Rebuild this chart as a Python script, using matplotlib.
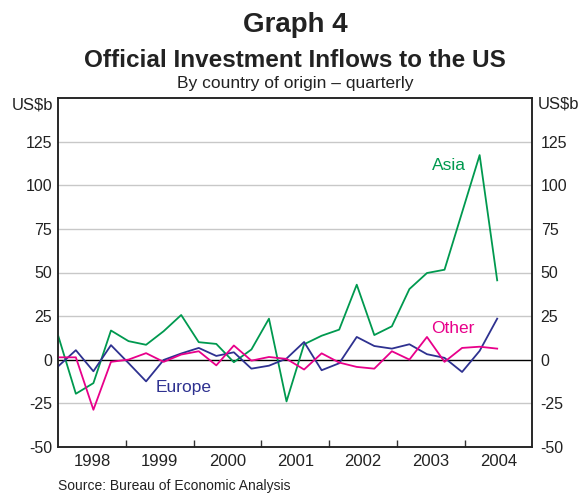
import matplotlib
matplotlib.use('Agg')
import matplotlib.pyplot as plt
import matplotlib.transforms as mtransforms
import numpy as np

plt.rcParams['font.family'] = ['Liberation Sans', 'DejaVu Sans']

# ---- data (US$b, quarterly) ----
quarter_index = list(range(26))
asia = [13.5, -19.6, -13.5, 16.7, 10.6, 8.5, 16.3, 25.6, 10.0, 9.0, -1.5, 5.8, 23.5,
        -24.0, 8.8, 13.7, 17.2, 43.0, 14.1, 19.1, 40.5, 49.7, 51.6, 84.5, 117.4, 45.5]
europe = [-3.8, 5.4, -6.7, 8.3, -2.0, -12.5, -0.2, 3.5, 6.7, 2.1, 4.2, -5.2, -3.5,
          0.6, 10.1, -6.1, -2.1, 13.0, 7.8, 6.3, 8.8, 3.1, 1.0, -7.1, 5.0, 23.5]
other = [1.3, 1.3, -28.8, -1.3, 0.0, 3.7, -1.3, 2.9, 4.8, -3.3, 8.1, -0.6, 1.5,
         0.4, -5.7, 3.6, -1.7, -4.2, -5.2, 4.8, 0.0, 13.0, -1.3, 6.7, 7.4, 6.3]
year_labels = ['1998', '1999', '2000', '2001', '2002', '2003', '2004']
y_ticks = [-50, -25, 0, 25, 50, 75, 100, 125]

GREEN = '#00994F'
BLUE = '#2E3190'
PINK = '#E8008A'
GRID = '#c8c8c8'
TXT = '#222222'

fig = plt.figure(figsize=(5.82, 4.93), dpi=100)
ax = fig.add_axes([58.3 / 582, 1 - 446.7 / 493, (532.3 - 58.3) / 582, (446.7 - 98.3) / 493])

ax.set_ylim(-50, 150)
n_slots = 27
ax.set_xlim(0, n_slots)

for v in y_ticks:
    if v == 0:
        continue
    ax.axhline(v, color=GRID, lw=1.0, zorder=1)
ax.axhline(0, color='black', lw=1.0, zorder=2)

ax.plot(quarter_index, asia, color=GREEN, lw=1.3, zorder=3)
ax.plot(quarter_index, europe, color=BLUE, lw=1.3, zorder=3)
ax.plot(quarter_index, other, color=PINK, lw=1.3, zorder=3)

ax.text(22.25, 111.5, 'Asia', color=GREEN, fontsize=12.5, ha='center', va='center')
ax.text(22.5, 18, 'Other', color=PINK, fontsize=12.5, ha='center', va='center')
ax.text(7.15, -16, 'Europe', color=BLUE, fontsize=12.5, ha='center', va='center')

# x axis: year boundaries as inward ticks, labels centred in each year
edges = np.linspace(0, n_slots, len(year_labels) + 1)
ax.set_xticks(edges[1:-1])
ax.set_xticklabels([])
ax.set_xticks((edges[:-1] + edges[1:]) / 2, minor=True)
ax.set_xticklabels(year_labels, minor=True)
ax.tick_params(axis='x', which='major', direction='in', length=5, width=1, color='#333333')
ax.tick_params(axis='x', which='minor', length=0, pad=5, labelsize=12, labelcolor=TXT)

# y axes
ax.set_yticks(y_ticks)
ax.set_yticklabels([str(v) for v in y_ticks])
ax.tick_params(axis='y', length=0, pad=4.5, labelsize=11.5, labelcolor=TXT)
ax2 = ax.twinx()
ax2.set_ylim(ax.get_ylim())
ax2.set_yticks(y_ticks)
ax2.set_yticklabels([str(v) for v in y_ticks])
ax2.tick_params(axis='y', length=0, pad=6, labelsize=11.5, labelcolor=TXT)

for a in (ax, ax2):
    for s in a.spines.values():
        s.set_color('#222222')
        s.set_linewidth(1.1)

trL = mtransforms.blended_transform_factory(ax.transAxes, ax.transData)
ax.text(-0.011, 146, 'US$b', transform=trL, ha='right', va='center', fontsize=12, color=TXT)
ax.text(1.011, 146.5, 'US$b', transform=trL, ha='left', va='center', fontsize=12, color=TXT)

cx = (58.3 + 532.3) / 2 / 582
fig.text(cx, 1 - 32 / 493, 'Graph 4', ha='center', va='baseline', fontsize=20,
         fontweight='bold', color=TXT)
fig.text(cx, 1 - 67 / 493, 'Official Investment Inflows to the US', ha='center',
         va='baseline', fontsize=17.5, fontweight='bold', color=TXT)
fig.text(cx, 1 - 88 / 493, 'By country of origin \u2013 quarterly', ha='center',
         va='baseline', fontsize=12.5, color=TXT)
fig.text(57.5 / 582, 1 - 490 / 493, 'Source: Bureau of Economic Analysis', ha='left',
         va='baseline', fontsize=10, color=TXT)

fig.savefig('out.png', dpi=100)
